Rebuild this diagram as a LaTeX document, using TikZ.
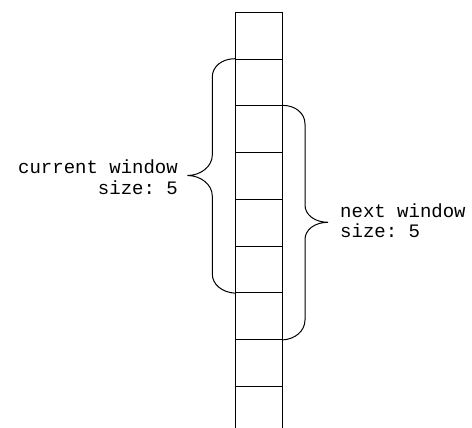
\documentclass[tikz,border=0pt]{standalone}
\usepackage{fontspec}
\setmonofont{Liberation Mono}
\begin{document}
\begin{tikzpicture}[x=1pt,y=-1pt,
  cell/.style={draw,line width=1pt,minimum width=46.7pt,minimum height=46.7pt,inner sep=0pt,anchor=north west},
  bracepath/.style={draw,line width=1pt},
  lbl/.style={inner sep=0pt,font=\fontsize{19}{19}\selectfont\ttfamily}]
\useasboundingbox (0,0) rectangle (472,428);
\clip (0,0) rectangle (472,428);
\foreach \k in {0,...,8}{
  \node[cell] (c\k) at (235,{12+46.7*\k}) {};
}
% left brace (current window)
\coordinate (ltip) at (187.5,175.5);
\draw[bracepath] (c1.north west) .. controls (222,58.7) and (212.3,66.5) .. (212.3,77)
  -- (212.3,155) .. controls (212.3,167) and (200,175.5) .. (ltip)
  .. controls (200,175.5) and (212.3,184) .. (212.3,196)
  -- (212.3,274) .. controls (212.3,284.5) and (222,292.3) .. (c5.south west);
% right brace (next window)
\coordinate (rtip) at (328,222.3);
\draw[bracepath] (c2.north east) .. controls (295,105.3) and (305,113) .. (305,124)
  -- (305,205) .. controls (305,215) and (315,222.3) .. (rtip)
  .. controls (315,222.3) and (305,229.5) .. (305,239.5)
  -- (305,320) .. controls (305,331) and (295,339.3) .. (c6.south east);
\node[lbl,anchor=base east] (l1) at (178,174) {current window};
\node[lbl,anchor=base east] (l2) at (178,194) {size: 5};
\node[lbl,anchor=base west] (r1) at (340,218) {next window};
\node[lbl,anchor=base west] (r2) at (340,237) {size: 5};
\end{tikzpicture}
\end{document}
